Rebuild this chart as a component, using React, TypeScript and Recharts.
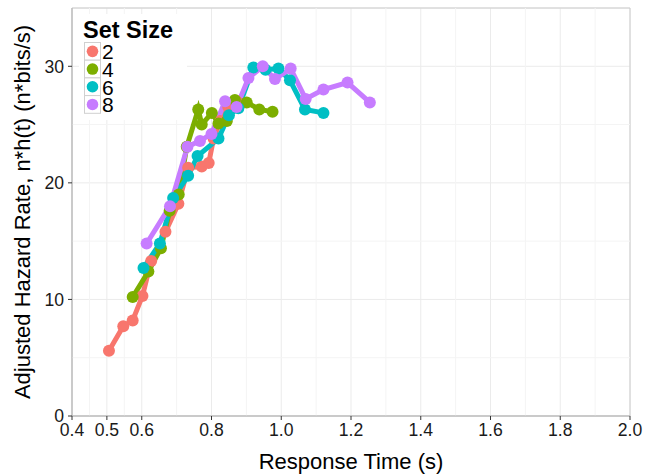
import React from 'react';
import { LineChart, Line, XAxis, YAxis, CartesianGrid, ReferenceLine, ReferenceArea, Legend } from 'recharts';

const setSizes = ['2', '4', '6', '8'];
const colors = ['#F8766D', '#7CAE00', '#00BFC4', '#C77CFF'];

const x2 = [0.506, 0.547, 0.574, 0.602, 0.627, 0.668, 0.705, 0.733, 0.772, 0.792, 0.806, 0.825, 0.848, 0.872];
const y2 = [5.6, 7.7, 8.2, 10.3, 13.3, 15.8, 18.2, 21.3, 21.4, 21.7, 23.8, 25.3, 26.5, 27.0];

const x4 = [0.574, 0.619, 0.655, 0.680, 0.706, 0.729, 0.762, 0.772, 0.801, 0.820, 0.844, 0.867, 0.901, 0.937, 0.975];
const y4 = [10.2, 12.4, 14.4, 17.6, 19.0, 23.1, 26.3, 25.0, 26.0, 25.1, 25.3, 27.1, 26.9, 26.3, 26.1];

const x6 = [0.605, 0.652, 0.690, 0.733, 0.760, 0.820, 0.850, 0.877, 0.920, 0.955, 0.992, 1.025, 1.068, 1.121];
const y6 = [12.7, 14.8, 18.7, 20.6, 22.3, 23.8, 25.8, 26.4, 29.9, 29.7, 29.8, 28.8, 26.3, 26.0];

const x8 = [0.614, 0.681, 0.731, 0.767, 0.800, 0.839, 0.872, 0.906, 0.947, 0.982, 1.027, 1.070, 1.121, 1.190, 1.254];
const y8 = [14.8, 18.0, 23.1, 23.6, 24.2, 27.0, 26.5, 29.0, 30.0, 28.9, 29.8, 27.2, 28.0, 28.6, 26.9];

const xTicks = [0.4, 0.5, 0.6, 0.8, 1.0, 1.2, 1.4, 1.6, 1.8, 2.0];
const yTicks = [0, 10, 20, 30];
const xMinor = [0.45, 0.55, 0.7, 0.9, 1.1, 1.3, 1.5, 1.7, 1.9];
const yMinor = [5, 15, 25];

const xLabel = 'Response Time (s)';
const yLabel = 'Adjusted Hazard Rate, n*h(t) (n*bits/s)';
const legendTitle = 'Set Size';

const toPts = (xs: number[], ys: number[]) => xs.map((x, i) => ({ x, y: ys[i] }));
const series = [toPts(x2, y2), toPts(x4, y4), toPts(x6, y6), toPts(x8, y8)];

const FONT = '"Liberation Sans", Arial, Helvetica, sans-serif';

const LegendBox = () => {
  const rowH = 17.7;
  return (
    <svg width={108} height={106} style={{ display: 'block', background: '#ffffff', overflow: 'visible' }}>
      <text x={4} y={24} fontFamily={FONT} fontWeight="bold" fontSize={23.5} fill="#000">{legendTitle}</text>
      {setSizes.map((s, i) => (
        <g key={s}>
          <rect x={5.5} y={28.5 + i * rowH} width={16} height={rowH} fill="#ffffff" stroke="#d0d0d0" strokeWidth={1} />
          <circle cx={13.5} cy={28.5 + i * rowH + rowH / 2} r={5.8} fill={colors[i]} />
          <text x={23} y={28.5 + (i + 1) * rowH - 1} fontFamily={FONT} fontSize={21} fill="#000">{s}</text>
        </g>
      ))}
    </svg>
  );
};

const XTitle = (props: any) => {
  const vb = props.viewBox || {};
  return (
    <text x={vb.x + vb.width / 2} y={vb.y + 53} textAnchor="middle" fontFamily={FONT} fontSize={22} fill="#000">{xLabel}</text>
  );
};

const YTitle = (props: any) => {
  const vb = props.viewBox || {};
  const cx = 22;
  const cy = vb.y + vb.height / 2;
  return (
    <text x={cx} y={cy} transform={`rotate(-90, ${cx}, ${cy})`} textAnchor="middle" dominantBaseline="central" fontFamily={FONT} fontSize={22} fill="#000">{yLabel}</text>
  );
};

export default function App() {
  return (
    <div style={{ position: 'absolute', left: 0, top: 0, width: 646, height: 475, background: '#fff' }}>
      <LineChart width={646} height={475} margin={{ top: 8, right: 16, bottom: 0, left: 0 }}>
        <CartesianGrid stroke="#ebebeb" strokeWidth={1} />
        {xMinor.map((v) => (
          <ReferenceLine key={'vx' + v} x={v} stroke="#f4f4f4" strokeWidth={1} />
        ))}
        {yMinor.map((v) => (
          <ReferenceLine key={'hy' + v} y={v} stroke="#f4f4f4" strokeWidth={1} />
        ))}
        <XAxis
          type="number"
          dataKey="x"
          domain={[0.4, 2.0]}
          allowDataOverflow
          ticks={xTicks}
          tickFormatter={(v: number) => v.toFixed(1)}
          height={59}
          tickSize={4}
          tickMargin={4}
          axisLine={{ stroke: '#b3b3b3' }}
          tickLine={{ stroke: '#333333' }}
          tick={{ fill: '#1a1a1a', fontSize: 17.6, fontFamily: FONT }}
          label={<XTitle />}
        />
        <YAxis
          type="number"
          dataKey="y"
          domain={[0, 35]}
          allowDataOverflow
          ticks={yTicks}
          width={72}
          tickSize={4}
          tickMargin={4}
          axisLine={{ stroke: '#b3b3b3' }}
          tickLine={{ stroke: '#333333' }}
          tick={{ fill: '#1a1a1a', fontSize: 17.6, fontFamily: FONT }}
          label={<YTitle />}
        />
        <ReferenceArea x1={0.4} x2={2.0} y1={0} y2={35} fill="none" stroke="#cccccc" strokeWidth={1} />
        {series.map((d, i) => (
          <Line
            key={'l' + i}
            data={d}
            dataKey="y"
            type="linear"
            stroke={colors[i]}
            strokeWidth={5}
            dot={false}
            activeDot={false}
            legendType="none"
            isAnimationActive={false}
          />
        ))}
        {series.map((d, i) => (
          <Line
            key={'p' + i}
            data={d}
            dataKey="y"
            name={setSizes[i]}
            type="linear"
            stroke="none"
            strokeWidth={0}
            dot={{ r: 6, fill: colors[i], stroke: 'none' }}
            activeDot={false}
            legendType="none"
            isAnimationActive={false}
          />
        ))}
        <Legend
          layout="horizontal"
          align="center"
          verticalAlign="middle"
          content={<LegendBox />}
          wrapperStyle={{ left: 79, top: 14, width: 108, height: 106 }}
        />
      </LineChart>
    </div>
  );
}
